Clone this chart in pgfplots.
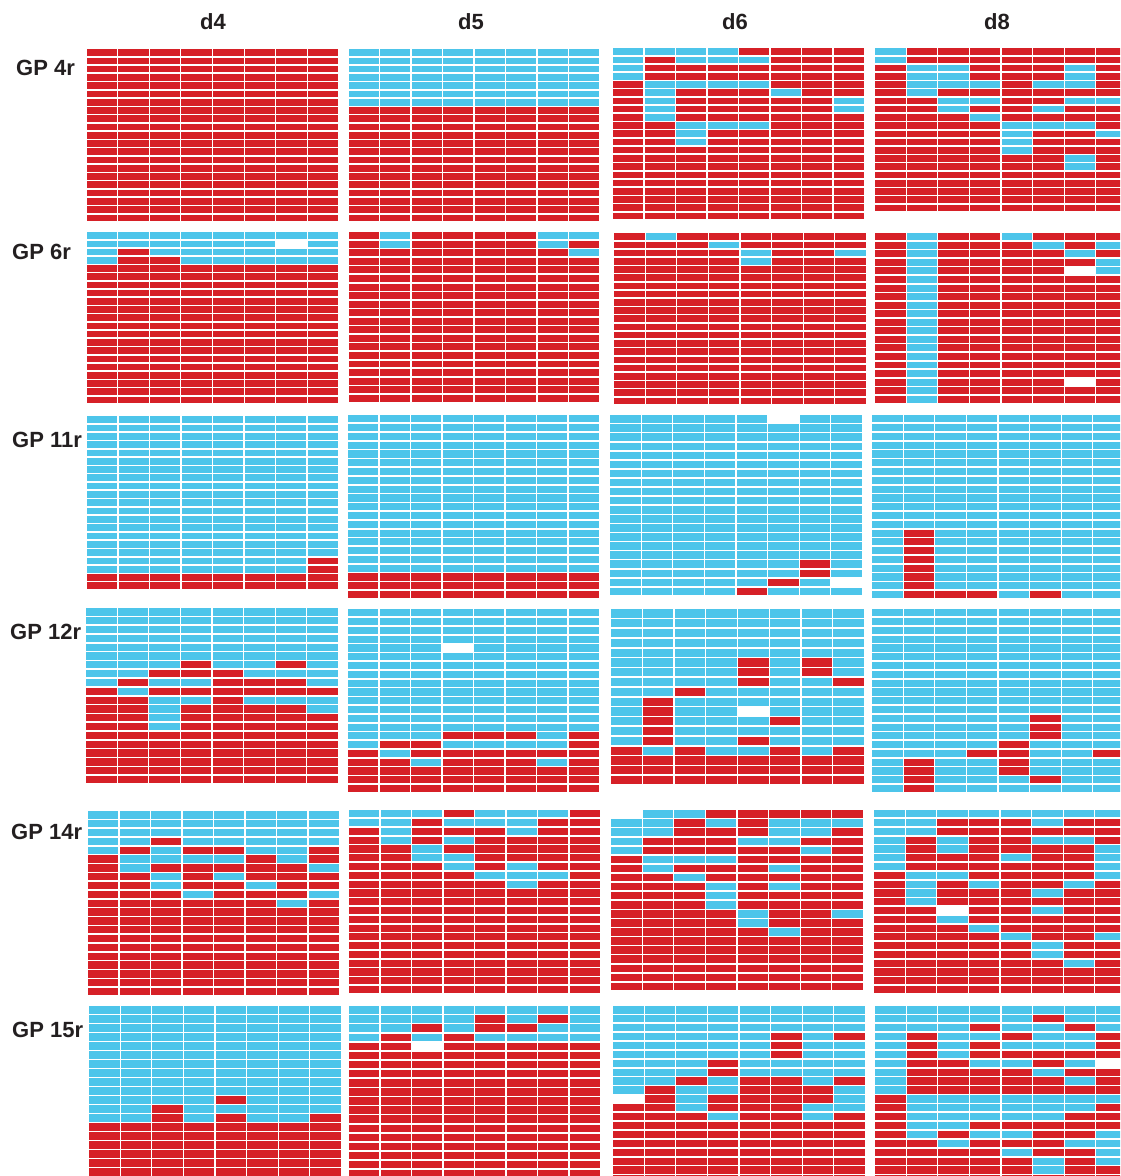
\documentclass[border=0pt]{standalone}
\usepackage{fontspec}
\setmainfont{Liberation Sans}
\usepackage{pgfplots}
\usepackage{pgfplotstable}
\pgfplotsset{compat=1.18}

\definecolor{cellred}{RGB}{214,32,39}
\definecolor{cellblue}{RGB}{77,197,234}
\definecolor{labeltext}{RGB}{35,31,32}

% one cell of a panel; half width and half height are set per panel
\pgfdeclareplotmark{cell}{%
  \pgfpathrectangle{\pgfpoint{-\cellhw pt}{-\cellhh pt}}{\pgfpoint{2*\cellhw pt}{2*\cellhh pt}}%
  \pgfusepathqfill}

\pgfplotsset{
  cellpanel/.style={scale only axis, anchor=north west, hide axis, clip=false,
    xmin=-0.5, xmax=7.5, ymax=0.5},
  cellplot/.style={scatter, only marks, mark=cell, scatter src=explicit symbolic,
    scatter/classes={R={mark=cell, cellred}, B={mark=cell, cellblue}, W={mark=cell, white}}},
}

% #1 left edge, #2 top edge (measured from the top of the page),
% #3 width, #4 height, #5 number of rows, #6 table (8 columns, one line per row)
\newcommand\panel[6]{%
  \pgfmathsetmacro\cellhw{(#3/8-1.1)/2}%
  \pgfmathsetmacro\cellhh{(#4/#5-1.6)/2}%
  \pgfmathsetmacro\paneltop{1176-#2}%
  \begin{axis}[cellpanel, at={(#1pt,\paneltop pt)}, width=#3pt, height=#4pt, ymin={-#5+0.5}]
    \pgfplotsinvokeforeach{0,...,7}{%
      \addplot[cellplot] table[x expr=##1, y expr=-\coordindex, meta index=##1] {#6};
    }
  \end{axis}}

% R = red, B = blue, W = no value
% ---------------- GP 4r ----------------
\pgfplotstableread{
c0 c1 c2 c3 c4 c5 c6 c7
R R R R R R R R
R R R R R R R R
R R R R R R R R
R R R R R R R R
R R R R R R R R
R R R R R R R R
R R R R R R R R
R R R R R R R R
R R R R R R R R
R R R R R R R R
R R R R R R R R
R R R R R R R R
R R R R R R R R
R R R R R R R R
R R R R R R R R
R R R R R R R R
R R R R R R R R
R R R R R R R R
R R R R R R R R
R R R R R R R R
R R R R R R R R
}\tAa
\pgfplotstableread{
c0 c1 c2 c3 c4 c5 c6 c7
B B B B B B B B
B B B B B B B B
B B B B B B B B
B B B B B B B B
B B B B B B B B
B B B B B B B B
B B B B B B B B
R R R R R R R R
R R R R R R R R
R R R R R R R R
R R R R R R R R
R R R R R R R R
R R R R R R R R
R R R R R R R R
R R R R R R R R
R R R R R R R R
R R R R R R R R
R R R R R R R R
R R R R R R R R
R R R R R R R R
R R R R R R R R
}\tAb
\pgfplotstableread{
c0 c1 c2 c3 c4 c5 c6 c7
B B B B R R R R
B R B B B R R R
B R R R R R R R
B R R R R R R R
R B B B B R R R
R B R R R B R R
R B R R R R R B
R B R R R R R B
R B R R R R R R
R R B B B R R R
R R B R R R R R
R R B R R R R R
R R R R R R R R
R R R R R R R R
R R R R R R R R
R R R R R R R R
R R R R R R R R
R R R R R R R R
R R R R R R R R
R R R R R R R R
R R R R R R R R
}\tAc
\pgfplotstableread{
c0 c1 c2 c3 c4 c5 c6 c7
B R R R R R R R
B R R R R R R R
R B B R R R B R
R B B R R R B R
R B B B R B B R
R B R R R R R R
R R B B R R B B
R R B R R B R R
R R R B R R R R
R R R R B B B R
R R R R B R R B
R R R R B R R R
R R R R B R R R
R R R R R R B R
R R R R R R B R
R R R R R R R R
R R R R R R R R
R R R R R R R R
R R R R R R R R
R R R R R R R R
}\tAd
% ---------------- GP 6r ----------------
\pgfplotstableread{
c0 c1 c2 c3 c4 c5 c6 c7
B B B B B B B B
B B B B B B W B
B R B B B B B B
B R R B B B B B
R R R R R R R R
R R R R R R R R
R R R R R R R R
R R R R R R R R
R R R R R R R R
R R R R R R R R
R R R R R R R R
R R R R R R R R
R R R R R R R R
R R R R R R R R
R R R R R R R R
R R R R R R R R
R R R R R R R R
R R R R R R R R
R R R R R R R R
R R R R R R R R
R R R R R R R R
}\tBa
\pgfplotstableread{
c0 c1 c2 c3 c4 c5 c6 c7
R B R R R R B B
R B R R R R B R
R R R R R R R B
R R R R R R R R
R R R R R R R R
R R R R R R R R
R R R R R R R R
R R R R R R R R
R R R R R R R R
R R R R R R R R
R R R R R R R R
R R R R R R R R
R R R R R R R R
R R R R R R R R
R R R R R R R R
R R R R R R R R
R R R R R R R R
R R R R R R R R
R R R R R R R R
R R R R R R R R
}\tBb
\pgfplotstableread{
c0 c1 c2 c3 c4 c5 c6 c7
R B R R R R R R
R R R B R R R R
R R R R B R R B
R R R R B R R R
R R R R R R R R
R R R R R R R R
R R R R R R R R
R R R R R R R R
R R R R R R R R
R R R R R R R R
R R R R R R R R
R R R R R R R R
R R R R R R R R
R R R R R R R R
R R R R R R R R
R R R R R R R R
R R R R R R R R
R R R R R R R R
R R R R R R R R
R R R R R R R R
R R R R R R R R
}\tBc
\pgfplotstableread{
c0 c1 c2 c3 c4 c5 c6 c7
R B R R B R R R
R B R R R B R B
R B R R R R B R
R B R R R R R B
R B R R R R W B
R B R R R R R R
R B R R R R R R
R B R R R R R R
R B R R R R R R
R B R R R R R R
R B R R R R R R
R B R R R R R R
R B R R R R R R
R B R R R R R R
R B R R R R R R
R B R R R R R R
R B R R R R R R
R B R R R R W R
R B R R R R R R
R B R R R R R R
}\tBd
% ---------------- GP 11r ----------------
\pgfplotstableread{
c0 c1 c2 c3 c4 c5 c6 c7
B B B B B B B B
B B B B B B B B
B B B B B B B B
B B B B B B B B
B B B B B B B B
B B B B B B B B
B B B B B B B B
B B B B B B B B
B B B B B B B B
B B B B B B B B
B B B B B B B B
B B B B B B B B
B B B B B B B B
B B B B B B B B
B B B B B B B B
B B B B B B B B
B B B B B B B B
B B B B B B B R
B B B B B B B R
R R R R R R R R
R R R R R R R R
}\tCa
\pgfplotstableread{
c0 c1 c2 c3 c4 c5 c6 c7
B B B B B B B B
B B B B B B B B
B B B B B B B B
B B B B B B B B
B B B B B B B B
B B B B B B B B
B B B B B B B B
B B B B B B B B
B B B B B B B B
B B B B B B B B
B B B B B B B B
B B B B B B B B
B B B B B B B B
B B B B B B B B
B B B B B B B B
B B B B B B B B
B B B B B B B B
B B B B B B B B
R R R R R R R R
R R R R R R R R
R R R R R R R R
}\tCb
\pgfplotstableread{
c0 c1 c2 c3 c4 c5 c6 c7
B B B B B W B B
B B B B B B B B
B B B B B B B B
B B B B B B B B
B B B B B B B B
B B B B B B B B
B B B B B B B B
B B B B B B B B
B B B B B B B B
B B B B B B B B
B B B B B B B B
B B B B B B B B
B B B B B B B B
B B B B B B B B
B B B B B B B B
B B B B B B B B
B B B B B B R B
B B B B B B R B
B B B B B R B W
B B B B R B B B
}\tCc
\pgfplotstableread{
c0 c1 c2 c3 c4 c5 c6 c7
B B B B B B B B
B B B B B B B B
B B B B B B B B
B B B B B B B B
B B B B B B B B
B B B B B B B B
B B B B B B B B
B B B B B B B B
B B B B B B B B
B B B B B B B B
B B B B B B B B
B B B B B B B B
B B B B B B B B
B R B B B B B B
B R B B B B B B
B R B B B B B B
B R B B B B B B
B R B B B B B B
B R B B B B B B
B R B B B B B B
B R R R B R B B
}\tCd
% ---------------- GP 12r ----------------
\pgfplotstableread{
c0 c1 c2 c3 c4 c5 c6 c7
B B B B B B B B
B B B B B B B B
B B B B B B B B
B B B B B B B B
B B B B B B B B
B B B B B B B B
B B B R B B R B
B B R R R B B B
B R B B R R R B
R B R R R R R R
R R B B R B B B
R R B R R R R B
R R B R R R R R
R R B R R R R R
R R R R R R R R
R R R R R R R R
R R R R R R R R
R R R R R R R R
R R R R R R R R
R R R R R R R R
}\tDa
\pgfplotstableread{
c0 c1 c2 c3 c4 c5 c6 c7
B B B B B B B B
B B B B B B B B
B B B B B B B B
B B B B B B B B
B B B W B B B B
B B B B B B B B
B B B B B B B B
B B B B B B B B
B B B B B B B B
B B B B B B B B
B B B B B B B B
B B B B B B B B
B B B B B B B B
B B B B B B B B
B B B R R R B R
B R R B B B B R
R B R R R R R R
R R B R R R B R
R R R R R R R R
R R R R R R R R
R R R R R R R R
}\tDb
\pgfplotstableread{
c0 c1 c2 c3 c4 c5 c6 c7
B B B B B B B B
B B B B B B B B
B B B B B B B B
B B B B B B B B
B B B B B B B B
B B B B R B R B
B B B B R B R B
B B B B R B B R
B B R B B B B B
B R B B B B B B
B R B B W B B B
B R B B B R B B
B R B B B B B B
B R B B R B B B
R B R B B R B R
R R R R R R R R
R R R R R R R R
R R R R R R R R
}\tDc
\pgfplotstableread{
c0 c1 c2 c3 c4 c5 c6 c7
B B B B B B B B
B B B B B B B B
B B B B B B B B
B B B B B B B B
B B B B B B B B
B B B B B B B B
B B B B B B B B
B B B B B B B B
B B B B B B B B
B B B B B B B B
B B B B B B B B
B B B B B B B B
B B B B B R B B
B B B B B R B B
B B B B B R B B
B B B B R B B B
B B B R R B B R
B R B B R B B B
B R B B R B B B
B R B B B R B B
B R B B B B B B
}\tDd
% ---------------- GP 14r ----------------
\pgfplotstableread{
c0 c1 c2 c3 c4 c5 c6 c7
B B B B B B B B
B B B B B B B B
B B B B B B B B
B B R B B B B B
B R B R R B B R
R B B B B R B R
R B R R R R R B
R R B R B R R R
R R B R R B R R
R R R B R R R B
R R R R R R B R
R R R R R R R R
R R R R R R R R
R R R R R R R R
R R R R R R R R
R R R R R R R R
R R R R R R R R
R R R R R R R R
R R R R R R R R
R R R R R R R R
R R R R R R R R
}\tEa
\pgfplotstableread{
c0 c1 c2 c3 c4 c5 c6 c7
B B B R B B B R
B B R B B B R R
R B R R R B R R
R B R B R R R R
R R B R R R R R
R R B B R R R R
R R R B R B R R
R R R R B B B R
R R R R R B R R
R R R R R R R R
R R R R R R R R
R R R R R R R R
R R R R R R R R
R R R R R R R R
R R R R R R R R
R R R R R R R R
R R R R R R R R
R R R R R R R R
R R R R R R R R
R R R R R R R R
R R R R R R R R
}\tEb
\pgfplotstableread{
c0 c1 c2 c3 c4 c5 c6 c7
W B B R R R R R
B B R B R B B B
B B R R R B B R
B R R R B B R R
B R R R R R B R
R B B B R R R R
R B R R R B R R
R R B R R R R R
R R R B R B R R
R R R B R R R R
R R R B R R R R
R R R R B R R B
R R R R B R R R
R R R R R B R R
R R R R R R R R
R R R R R R R R
R R R R R R R R
R R R R R R R R
R R R R R R R R
R R R R R R R R
}\tEc
\pgfplotstableread{
c0 c1 c2 c3 c4 c5 c6 c7
B B B B B B B B
B B R R R B R R
B B R R R R R R
B R B R R B B R
B R B R R R R B
B R R R B R R B
B R R R R R R B
R B B R R R R B
R B R B R R B R
R B R R R B R R
R B R R R R R R
R R W R R B R R
R R B R R R R R
R R R B R R R R
R R R R B R R B
R R R R R B R R
R R R R R B R R
R R R R R R B R
R R R R R R R R
R R R R R R R R
R R R R R R R R
}\tEd
% ---------------- GP 15r ----------------
\pgfplotstableread{
c0 c1 c2 c3 c4 c5 c6 c7
B B B B B B B B
B B B B B B B B
B B B B B B B B
B B B B B B B B
B B B B B B B B
B B B B B B B B
B B B B B B B B
B B B B B B B B
B B B B B B B B
B B B B B B B B
B B B B R B B B
B B R B B B B B
B B R B R B B R
R R R R R R R R
R R R R R R R R
R R R R R R R R
R R R R R R R R
R R R R R R R R
R R R R R R R R
R R R R R R R R
}\tFa
\pgfplotstableread{
c0 c1 c2 c3 c4 c5 c6 c7
B B B B B B B B
B B B B R B R B
B B R B R R B B
B R B R B B B B
R R W R R R R R
R R R R R R R R
R R R R R R R R
R R R R R R R R
R R R R R R R R
R R R R R R R R
R R R R R R R R
R R R R R R R R
R R R R R R R R
R R R R R R R R
R R R R R R R R
R R R R R R R R
R R R R R R R R
R R R R R R R R
R R R R R R R R
R R R R R R R R
}\tFb
\pgfplotstableread{
c0 c1 c2 c3 c4 c5 c6 c7
B B B B B B B B
B B B B B B B B
B B B B B B B B
B B B B B R B R
B B B B B R B B
B B B B B R B B
B B B R B B B B
B B B R B B B B
B B R B R R B R
B R B B R R R B
W R B R R R R B
R R B R R R B B
R R R B R R B R
R R R R R R R R
R R R R R R R R
R R R R R R R R
R R R R R R R R
R R R R R R R R
R R R R R R R R
R R R R R R R R
}\tFc
\pgfplotstableread{
c0 c1 c2 c3 c4 c5 c6 c7
B B B B B B B B
B B B B B R B B
B B B R B B R B
B R B B R B B R
B R B R B B B R
B R B R R R R R
B R R B B R B W
B R R R R B R R
B R R R R R B R
B R R R R R R R
R B B B B B B B
R B B B B B B R
R B B B B B R R
R B B R R R R R
R B R B B R R B
R R B R R R B B
R R R R B R R B
R R R R R B R B
R R R R R B R R
R R R R R R R R
}\tFd

\begin{document}
\begin{tikzpicture}[x=1pt, y=1pt]
  \path[use as bounding box] (0,0) rectangle (1120,1176);
  \clip (0,0) rectangle (1120,1176);

  % column and row headings
  \begin{scope}[every node/.style={font=\bfseries\fontsize{22}{26}\selectfont, text=labeltext, inner sep=0pt}]
    \node at (213,1154) {d4};
    \node at (471,1154) {d5};
    \node at (735,1154) {d6};
    \node at (997,1154) {d8};
    \node[anchor=west] at (16,1108) {GP 4r};
    \node[anchor=west] at (12,924)  {GP 6r};
    \node[anchor=west] at (12,736)  {GP 11r};
    \node[anchor=west] at (10,544)  {GP 12r};
    \node[anchor=west] at (11,344)  {GP 14r};
    \node[anchor=west] at (12,146)  {GP 15r};
  \end{scope}

  % GP 4r
  \panel{86}{48.5}{253}{173.5}{21}{\tAa}
  \panel{348}{48.5}{252}{173.5}{21}{\tAb}
  \panel{612.5}{47.5}{252}{172.5}{21}{\tAc}
  \panel{874.5}{47.5}{253}{164.5}{20}{\tAd}
  % GP 6r
  \panel{86}{231.5}{253}{172.5}{21}{\tBa}
  \panel{348}{231.5}{252}{171}{20}{\tBb}
  \panel{613.5}{232.5}{253}{172.5}{21}{\tBc}
  \panel{874.5}{232.5}{253}{171}{20}{\tBd}
  % GP 11r
  \panel{86.5}{415.5}{252}{174.5}{21}{\tCa}
  \panel{347.5}{414.5}{252}{184.5}{21}{\tCb}
  \panel{609.5}{414.5}{253}{181.5}{20}{\tCc}
  \panel{871.5}{414.5}{253}{184.5}{21}{\tCd}
  % GP 12r
  \panel{85.5}{607.5}{253}{176.5}{20}{\tDa}
  \panel{347.5}{608.5}{252}{184.5}{21}{\tDb}
  \panel{610.5}{608.5}{254}{176.5}{18}{\tDc}
  \panel{871.5}{608.5}{253}{184.5}{21}{\tDd}
  % GP 14r
  \panel{87.5}{810.5}{252}{185.5}{21}{\tEa}
  \panel{348.5}{809.5}{252}{184.5}{21}{\tEb}
  \panel{610.5}{809.5}{253}{181.5}{20}{\tEc}
  \panel{873.5}{809.5}{253}{184.5}{21}{\tEd}
  % GP 15r
  \panel{88.5}{1005.5}{253}{180}{20}{\tFa}
  \panel{348.5}{1005.5}{252}{182}{20}{\tFb}
  \panel{612.5}{1005.5}{253}{178}{20}{\tFc}
  \panel{874.5}{1005.5}{253}{178}{20}{\tFd}
\end{tikzpicture}
\end{document}
